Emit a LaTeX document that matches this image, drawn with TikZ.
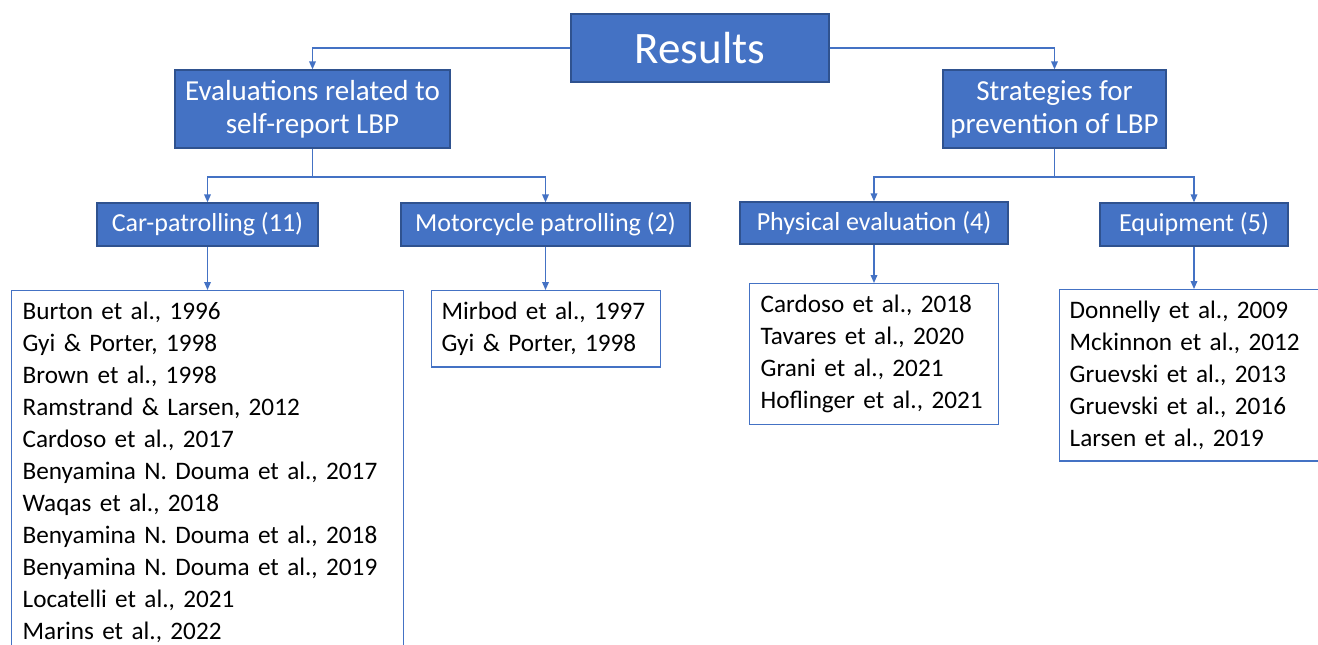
\documentclass[tikz,border=0pt]{standalone}
\usepackage{fontspec}
\setmainfont{Carlito}
\usetikzlibrary{arrows.meta}
\definecolor{obl}{HTML}{4472C4}
\definecolor{obd}{HTML}{2F528F}
\begin{document}
\begin{tikzpicture}[x=0.75pt,y=-0.75pt,
 bluebox/.style={draw=obd,line width=1pt,fill=obl,text=white,inner sep=0pt,align=center},
 subfont/.style={font=\fontsize{19.5}{24}\selectfont},
 listbox/.style={draw=obl,line width=1pt,fill=white,anchor=north west,align=left,inner ysep=8.5pt,font=\fontsize{18.9}{24}\selectfont},
 conn/.style={draw=obl,line width=1pt,-{Triangle[length=6pt,width=5pt]}},
 plainline/.style={draw=obl,line width=1pt}]
\useasboundingbox (0,0) rectangle (1318,644);
\clip (0,0) rectangle (1318,644);
% top level
\node[bluebox,minimum width=193.5pt,minimum height=51pt,font=\fontsize{33.75}{40}\selectfont] (res) at (700,48) {Results};
\node[bluebox,minimum width=206.25pt,minimum height=58.5pt,font=\fontsize{21.75}{24.75}\selectfont] (eval) at (312.5,109) {Evaluations related to\\self-report LBP};
\node[bluebox,minimum width=167.25pt,minimum height=58.5pt,font=\fontsize{21.75}{24.75}\selectfont] (strat) at (1054.5,109) {Strategies for\\prevention of LBP};
% second level
\node[bluebox,subfont,minimum width=165.75pt,minimum height=32.25pt] (car) at (207.5,224.5) {Car-patrolling (11)};
\node[bluebox,subfont,minimum width=216.75pt,minimum height=32.25pt] (moto) at (545.5,224.5) {Motorcycle patrolling (2)};
\node[bluebox,subfont,minimum width=201pt,minimum height=31.5pt] (phys) at (874,223) {Physical evaluation (4)};
\node[bluebox,subfont,minimum width=141pt,minimum height=32.25pt] (equip) at (1194,224.5) {Equipment (5)};
% lists
\node[listbox,inner xsep=8.25pt,text width=277.5pt] (carlist) at (11,290) {Burton et al., 1996\\Gyi \& Porter, 1998\\Brown et al., 1998\\Ramstrand \& Larsen, 2012\\Cardoso et al., 2017\\Benyamina N. Douma et al., 2017\\Waqas et al., 2018\\Benyamina N. Douma et al., 2018\\Benyamina N. Douma et al., 2019\\Locatelli et al., 2021\\Marins et al., 2022};
\node[listbox,inner xsep=7.5pt,text width=156.75pt] (motolist) at (431,290) {Mirbod et al., 1997\\Gyi \& Porter, 1998};
\node[listbox,inner xsep=8.25pt,text width=170.25pt] (physlist) at (749,283) {Cardoso et al., 2018\\Tavares et al., 2020\\Grani et al., 2021\\Hoflinger et al., 2021};
\node[listbox,inner xsep=7.5pt,text width=186pt] (equiplist) at (1059,289) {Donnelly et al., 2009\\Mckinnon et al., 2012\\Gruevski et al., 2013\\Gruevski et al., 2016\\Larsen et al., 2019};
% connectors
\draw[conn] (res.west) -| (eval.north);
\draw[conn] (res.east) -| (strat.north);
\coordinate (ej) at (312.5,177);
\coordinate (sj) at (1054.5,177);
\draw[plainline] (eval.south) -- (ej);
\draw[conn] (ej) -| (car.north);
\draw[conn] (ej) -| (moto.north);
\draw[plainline] (strat.south) -- (sj);
\draw[conn] (sj) -| (phys.north);
\draw[conn] (sj) -| (equip.north);
\draw[conn] (car.south) -- (car.south |- carlist.north);
\draw[conn] (moto.south) -- (moto.south |- motolist.north);
\draw[conn] (phys.south) -- (phys.south |- physlist.north);
\draw[conn] (equip.south) -- (equip.south |- equiplist.north);
\end{tikzpicture}
\end{document}
